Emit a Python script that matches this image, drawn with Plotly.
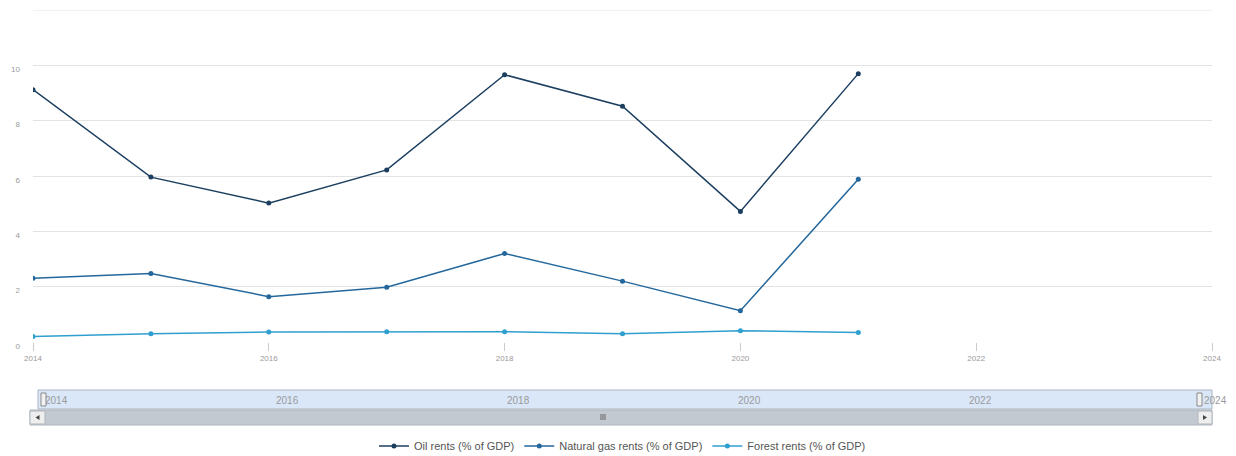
import plotly.graph_objects as go

# Resource rents as a share of GDP
years = [2014, 2015, 2016, 2017, 2018, 2019, 2020, 2021]
oil_rents = [9.12, 5.96, 5.02, 6.22, 9.66, 8.52, 4.72, 9.70]
gas_rents = [2.30, 2.48, 1.64, 1.98, 3.20, 2.20, 1.13, 5.88]
forest_rents = [0.20, 0.30, 0.36, 0.37, 0.37, 0.30, 0.41, 0.34]

series_names = ["Oil rents (% of GDP)", "Natural gas rents (% of GDP)", "Forest rents (% of GDP)"]
series_colors = ["#1c3f60", "#23679c", "#2f9fd0"]

y_ticks = [0, 2, 4, 6, 8, 10, 12]
y_tick_text = ["0", "2", "4", "6", "8", "10", ""]
x_ticks = [2014, 2016, 2018, 2020, 2022, 2024]

W, H = 1236, 456
ML, MR, MT, MB = 33, 24, 10, 0
PW, PH = W - ML - MR, H - MT - MB


def px_x(p):
    return (p - ML) / PW


def px_y(p):
    return (H - MB - p) / PH


fig = go.Figure()
for name, vals, col in zip(series_names, [oil_rents, gas_rents, forest_rents], series_colors):
    fig.add_trace(go.Scatter(
        x=years, y=vals, name=name, mode="lines+markers",
        line=dict(color=col, width=1.5),
        marker=dict(color=col, size=5),
        xaxis="x", yaxis="y",
    ))

tick_font = dict(family="Liberation Sans, Arial, sans-serif", size=8, color="#9a9a9a")

fig.update_layout(
    width=W, height=H,
    margin=dict(l=ML, r=MR, t=MT, b=MB, autoexpand=False),
    paper_bgcolor="white", plot_bgcolor="white",
    showlegend=True,
    legend=dict(
        orientation="h", x=0.5, xanchor="center", y=px_y(446), yanchor="middle",
        font=dict(family="Liberation Sans, Arial, sans-serif", size=11, color="#555555"),
        itemwidth=30, tracegroupgap=0,
    ),
    xaxis=dict(
        domain=[0, 1], range=[2014, 2024], tickvals=x_ticks,
        showgrid=False, zeroline=False, showline=False,
        ticks="outside", ticklen=8, tickcolor="#cccccc",
        tickfont=tick_font, anchor="y",
    ),
    yaxis=dict(
        domain=[px_y(342), 1], range=[0, 12], tickvals=y_ticks, ticktext=y_tick_text,
        showgrid=True, gridcolor="#e3e3e3", gridwidth=1, zeroline=False,
        ticks="", ticklabelstandoff=12, ticklabelshift=4,
        tickfont=tick_font, anchor="x",
    ),
    # navigator axis
    xaxis2=dict(
        domain=[px_x(45), px_x(1200)], range=[2014, 2024], tickvals=x_ticks,
        ticklabelposition="inside right", showgrid=False, zeroline=False,
        showline=False, ticks="", anchor="y2",
        tickfont=dict(family="Liberation Sans, Arial, sans-serif", size=10, color="#9a9a9a"),
    ),
    yaxis2=dict(
        domain=[px_y(412), px_y(398)], range=[0, 1], visible=False, anchor="x2",
        fixedrange=True,
    ),
)

# an invisible trace so the navigator axes are drawn
fig.add_trace(go.Scatter(x=[2014, 2024], y=[None, None], xaxis="x2", yaxis="y2",
                         showlegend=False, hoverinfo="skip"))

shapes = []
# top grid line at the upper edge of the value axis
shapes.append(dict(type="line", xref="paper", yref="y", x0=0, x1=1, y0=12, y1=12,
                   line=dict(color="#e3e3e3", width=1), layer="below"))
# navigator band
shapes.append(dict(type="rect", xref="paper", yref="paper",
                   x0=px_x(38), x1=px_x(1212), y0=px_y(409), y1=px_y(390),
                   fillcolor="#d9e7f8", line=dict(color="#a9b4c0", width=1), layer="below"))
# scrollbar track and thumb
shapes.append(dict(type="rect", xref="paper", yref="paper",
                   x0=px_x(30), x1=px_x(1212), y0=px_y(425), y1=px_y(410),
                   fillcolor="#c3c9d0", line=dict(color="#b0b6bd", width=1), layer="below"))
# scrollbar buttons
for a, b in [(30, 45), (1198, 1212)]:
    shapes.append(dict(type="rect", xref="paper", yref="paper",
                       x0=px_x(a), x1=px_x(b), y0=px_y(424), y1=px_y(411),
                       fillcolor="#eeeeee", line=dict(color="#b0b6bd", width=1)))


def tri_path(cx, cy, direction):
    # small arrow triangle in paper coordinates
    dx = 2.0 * direction
    pts = [(cx + dx, cy), (cx - dx, cy - 2.5), (cx - dx, cy + 2.5)]
    return "M " + " L ".join(f"{px_x(x)},{px_y(y)}" for x, y in pts) + " Z"


shapes.append(dict(type="path", xref="paper", yref="paper", path=tri_path(37.5, 417.5, -1),
                   fillcolor="#444444", line=dict(width=0)))
shapes.append(dict(type="path", xref="paper", yref="paper", path=tri_path(1205, 417.5, 1),
                   fillcolor="#444444", line=dict(width=0)))
# navigator handles
for a in [41, 1197]:
    shapes.append(dict(type="rect", xref="paper", yref="paper",
                       x0=px_x(a), x1=px_x(a + 5), y0=px_y(406), y1=px_y(393),
                       fillcolor="#f2f2f2", line=dict(color="#888888", width=1)))
# scrollbar grip
for dx in (-2, 0, 2):
    shapes.append(dict(type="line", xref="paper", yref="paper",
                       x0=px_x(603 + dx), x1=px_x(603 + dx), y0=px_y(420), y1=px_y(414),
                       line=dict(color="#666666", width=1)))

annotations = [
    dict(text="2024", xref="paper", yref="paper", x=px_x(1202), y=px_y(400),
         xanchor="left", yanchor="middle", showarrow=False,
         font=dict(family="Liberation Sans, Arial, sans-serif", size=10, color="#9a9a9a")),
]

fig.update_layout(shapes=shapes, annotations=annotations)

fig.write_html("out.html")
